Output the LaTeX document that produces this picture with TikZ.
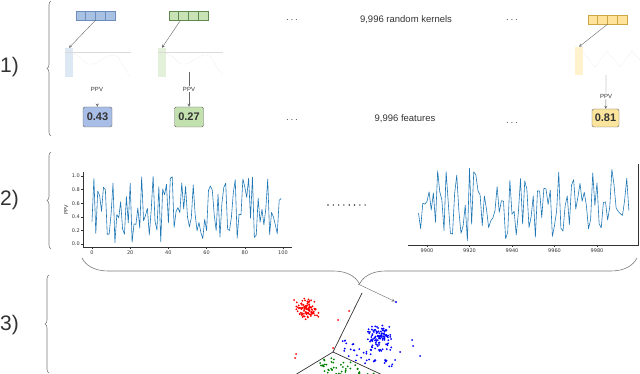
\documentclass[tikz,border=0pt]{standalone}
\usepackage{fontspec}
\setmainfont{Liberation Sans}
\newfontfamily\plotfont{DejaVu Sans}
\usetikzlibrary{arrows,calc,decorations.pathreplacing}
\definecolor{txtgray}{HTML}{333333}
\definecolor{arrowgray}{HTML}{666666}
\definecolor{bracegray}{HTML}{7A7A7A}
\definecolor{faintgray}{HTML}{DADADA}
\definecolor{blueFill}{HTML}{A9C2E4}
\definecolor{blueEdge}{HTML}{6C8EBF}
\definecolor{blueWin}{HTML}{DCE8F4}
\definecolor{blueBox}{HTML}{A8BEE6}
\definecolor{greenFill}{HTML}{C8E2B6}
\definecolor{greenEdge}{HTML}{5E8A4E}
\definecolor{greenWin}{HTML}{E3F0DA}
\definecolor{greenBox}{HTML}{C3E0AF}
\definecolor{yellowFill}{HTML}{FFE39A}
\definecolor{yellowEdge}{HTML}{C9A845}
\definecolor{yellowWin}{HTML}{FFF2CC}
\definecolor{yellowBox}{HTML}{FBE49C}
\definecolor{mplblue}{HTML}{1F77B4}
\definecolor{dotred}{HTML}{FF0000}
\definecolor{dotblue}{HTML}{0000FF}
\definecolor{dotgreen}{HTML}{008000}
\tikzstyle{kernel} = [rectangle, minimum width=39pt, minimum height=9pt, inner sep=0pt, line width=0.5pt]
\tikzstyle{window} = [rectangle, minimum width=8pt, inner sep=0pt]
\tikzstyle{feature} = [rectangle, rounded corners=1.5pt, minimum width=29pt, minimum height=20pt, inner sep=0pt, draw=arrowgray, text=txtgray, font=\fontsize{11}{12}\selectfont\bfseries]
\tikzstyle{ppv} = [fill=white, inner sep=1pt, text=txtgray, font=\fontsize{6}{7}\selectfont]
\tikzstyle{stage} = [anchor=west, inner sep=0pt, text=txtgray, font=\fontsize{21}{24}\selectfont]
\tikzstyle{caption} = [text=txtgray, font=\fontsize{9.5}{11}\selectfont]
\tikzstyle{dots} = [text=txtgray, inner sep=0pt]
\tikzstyle{tick} = [inner sep=0.5pt, text=txtgray, font=\plotfont\fontsize{5}{6}\selectfont]
\tikzstyle{axis} = [draw=txtgray, line width=0.5pt]
\tikzstyle{series} = [draw=mplblue, line width=0.6pt, line join=round]
\tikzstyle{faint} = [draw=faintgray, densely dotted, line width=0.4pt]
\tikzstyle{sidebrace} = [decorate, decoration={brace, amplitude=4pt}, draw=bracegray, line width=0.6pt]
\tikzstyle{bigbrace} = [decorate, decoration={brace, mirror, amplitude=26pt}, draw=bracegray, line width=0.6pt]
\tikzstyle{arrow} = [thin, ->, >=stealth, draw=arrowgray]
\tikzstyle{dot} = [circle, inner sep=0pt, minimum size=2.2pt]
\tikzstyle{boundary} = [draw=txtgray, line width=0.7pt]

\begin{document}
\begin{tikzpicture}[x=1pt, y=-1pt]
\useasboundingbox (0,0) rectangle (640,374);

\node (stepOne) [stage] at (0,67) {1)};
\node (stepTwo) [stage] at (0,200) {2)};
\node (stepThree) [stage] at (0,325) {3)};
\draw [sidebrace] (51,136) -- (51,1);
\draw [sidebrace] (51,249) -- (51,152);
\draw [sidebrace] (49,373) -- (49,275);

\node (kerA) [kernel, fill=blueFill, draw=blueEdge] at (95.5,15.5) {};
\node (kerB) [kernel, fill=greenFill, draw=greenEdge] at (188.5,15.5) {};
\node (kerC) [kernel, fill=yellowFill, draw=yellowEdge] at (607.5,19.5) {};
\foreach \k/\c in {kerA/blueEdge, kerB/greenEdge, kerC/yellowEdge}
  \foreach \i in {1,2,3}
    \draw [draw=\c, line width=0.5pt] ($(\k.south west)+(\i*9.75,0)$) -- ($(\k.north west)+(\i*9.75,0)$);

\node (winA) [window, fill=blueWin, minimum height=29pt] at (69,62.5) {};
\node (winB) [window, fill=greenWin, minimum height=29pt] at (162,62.5) {};
\node (winC) [window, fill=yellowWin, minimum height=28pt] at (579,61) {};
\draw [faintgray] (65,52) -- (131,52);
\draw [faintgray] (158,52) -- (223,52);
\draw [faint] plot[smooth] coordinates {(73,53) (80,57) (88,64) (96,63) (104,58) (112,55) (118,57) (124,67) (130,77)};
\draw [faint] plot[smooth] coordinates {(166,53) (173,57) (181,64) (189,63) (197,58) (205,55) (211,57) (217,67) (223,76)};
\draw [faint] plot coordinates {(583,52) (595,67) (607,51) (620,67) (632,51) (640,60)};

\draw [arrow] (kerA.south) -- (winA.north);
\draw [arrow] ([xshift=-8pt]kerB.south) -- (winB.north);
\draw [arrow] (kerC.south) -- (winC.north);

\node (ppvA) [ppv] at (97,89) {PPV};
\node (ppvB) [ppv] at (189,89) {PPV};
\node (ppvC) [ppv] at (606,96) {PPV};
\node (featA) [feature, fill=blueBox] at (97.5,117) {0.43};
\node (featB) [feature, fill=greenBox] at (189,117) {0.27};
\node (featC) [feature, fill=yellowBox, minimum width=27pt, minimum height=18pt] at (605.5,118) {0.81};
\coordinate (outB) at (189,72);
\coordinate (outC) at (606,75);
\draw [arrow, shorten <=11pt] (ppvA) -- (featA);
\draw [arrow] (outB) -- (ppvB) -- (featB);
\draw [arrow] (outC) -- (ppvC) -- (featC);

\node (dotsKerA) [dots] at (292,20) {$\cdots$};
\node (dotsKerB) [dots] at (512,20) {$\cdots$};
\node (dotsFeatA) [dots] at (292,120) {$\cdots$};
\node (dotsFeatB) [dots] at (512,123) {$\cdots$};
\node (capKernels) [caption] at (406,20) {9,996 random kernels};
\node (capFeatures) [caption] at (405,119) {9,996 features};

\pgfmathsetseed{42}
\draw [axis] (83,172) -- (83,247) -- (292,247);
\foreach \v/\t in {0/0.0, 2/0.2, 4/0.4, 6/0.6, 8/0.8, 10/1.0} {
  \draw [axis] (81,{244-6.8*\v}) -- (83,{244-6.8*\v});
  \node [tick, anchor=east] at (80.5,{244-6.8*\v}) {\t};
}
\foreach \v in {0,20,40,60,80,100} {
  \draw [axis] ({92+1.91*\v},247) -- ({92+1.91*\v},249);
  \node [tick, anchor=north] at ({92+1.91*\v},250) {\v};
}
\node (ppvAxis) [tick, rotate=90] at (66,210) {PPV};
\draw [series] plot[domain=0:99, samples=100] ({92+1.91*\x}, {244-68*rnd});

\foreach \i in {0,...,7}
  \fill [txtgray] ({328+5.3*\i},205) circle (0.8pt);

\draw [axis] (408,245) -- (638,245) -- (638,164);
\foreach \v in {9900,9920,9940,9960,9980} {
  \draw [axis] ({427+2.125*(\v-9900)},245) -- ({427+2.125*(\v-9900)},247);
  \node [tick, anchor=north] at ({427+2.125*(\v-9900)},248) {\v};
}
\draw [series] plot[domain=9896:9995, samples=100] ({427+2.125*(\x-9900)}, {241-73*rnd});

\draw [bigbrace] (82,258) -- (637,258);
\coordinate (braceTip) at (358,284);
\node (outlier) [dot, fill=dotblue] at (396,302) {};
\draw [arrow] (braceTip) -- (outlier);

\begin{scope}
\clip (0,0) rectangle (640,374);
\coordinate (cutTop) at (362,293);
\coordinate (junction) at (333,352);
\coordinate (cutLeft) at (290,378);
\coordinate (cutRight) at (389,378);
\draw [boundary] (cutTop) -- (junction) -- (cutLeft);
\draw [boundary] (junction) -- (cutRight);
\pgfmathsetseed{11}
\foreach \i in {1,...,100}
  \fill [dotred] ({307+6.5*(rand+rand)}, {309+6*(rand+rand)}) circle (1pt);
\foreach \p in {(294,300), (349,311), (338,320), (333,348), (296,354), (295,358)}
  \fill [dotred] \p circle (1pt);
\foreach \i in {1,...,110}
  \fill [dotblue] ({380+7.5*(rand+rand)}, {338+7*(rand+rand)}) circle (1pt);
\foreach \p in {(412,340), (413,346), (420,356), (400,352), (395,360)}
  \fill [dotblue] \p circle (1pt);
\foreach \i in {1,...,35} {
  \pgfmathsetmacro\px{338+55*rnd}
  \pgfmathsetmacro\py{352+0.468*(\px-333)-2-16*rnd}
  \fill [dotblue] (\px,\py) circle (1pt);
}
\foreach \i in {1,...,75} {
  \pgfmathsetmacro\px{318+64*rnd}
  \pgfmathsetmacro\py{max(352+0.468*(\px-333), 352+0.611*(333-\px))+2+20*rnd}
  \fill [dotgreen] (\px,\py) circle (1pt);
}
\end{scope}

\end{tikzpicture}
\end{document}
